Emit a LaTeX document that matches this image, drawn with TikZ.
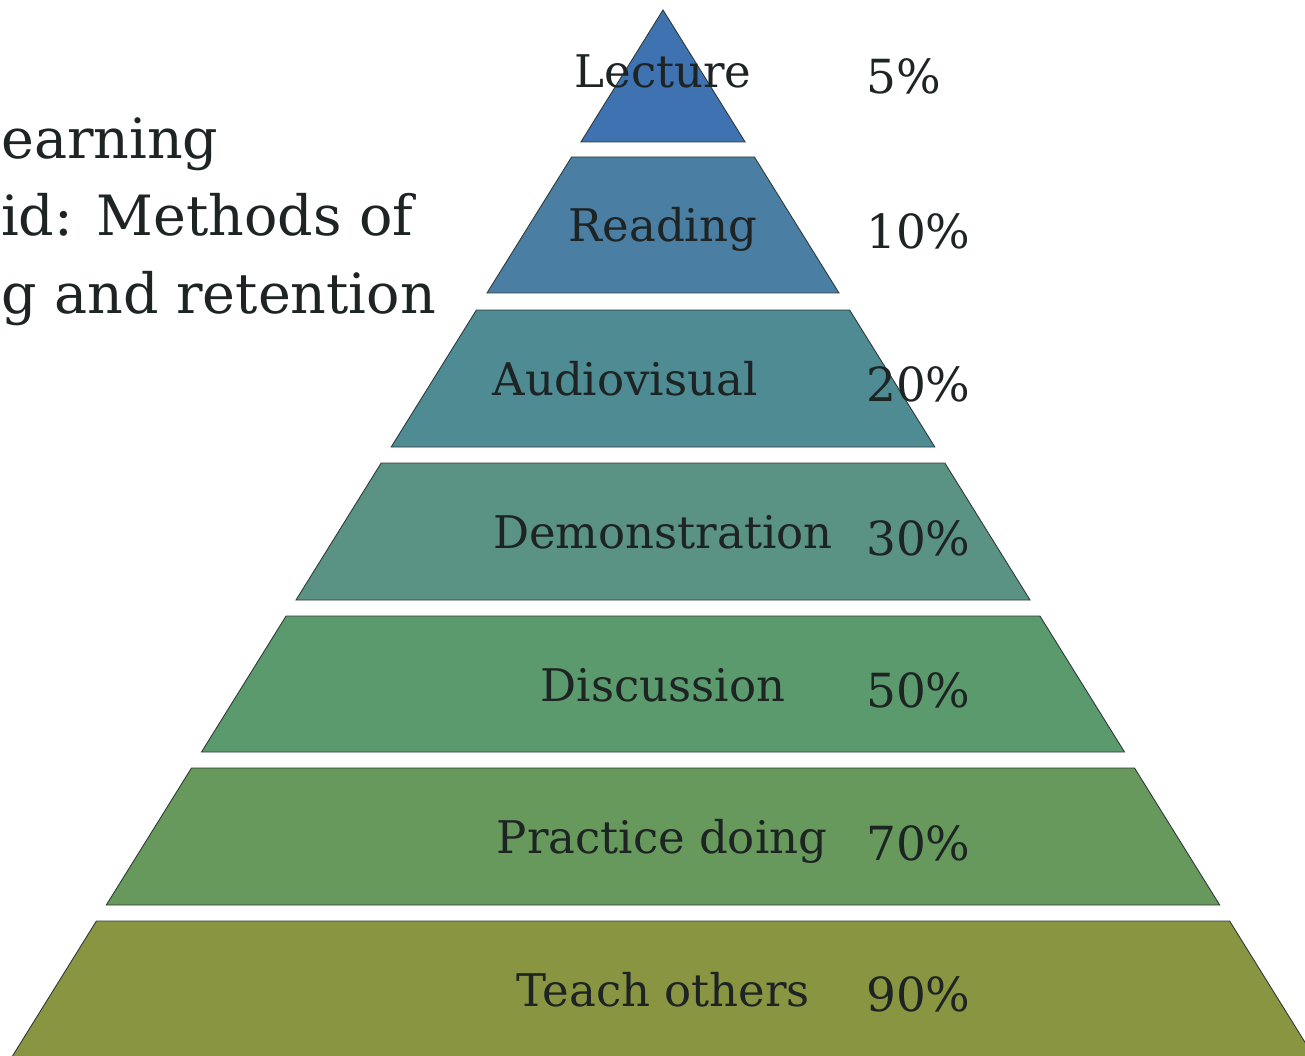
\documentclass[tikz,border=0pt]{standalone}
\usepackage{fontspec}
\setmainfont{DejaVu Serif}
\definecolor{cA}{HTML}{3F72B0}
\definecolor{cB}{HTML}{4A7FA3}
\definecolor{cC}{HTML}{4E8B93}
\definecolor{cD}{HTML}{5A9383}
\definecolor{cE}{HTML}{5B9A6C}
\definecolor{cF}{HTML}{66995B}
\definecolor{cG}{HTML}{8A9542}
\definecolor{edge}{HTML}{2E3B3A}
\definecolor{ink}{HTML}{1E2424}
\begin{document}
\begin{tikzpicture}[x=1pt,y=-1pt,
  band/.style={draw=edge,line width=0.9pt,line join=miter},
  lbl/.style={font=\fontsize{45}{50}\selectfont,text=ink,anchor=base,inner sep=0pt},
  pct/.style={font=\fontsize{47}{52}\selectfont,text=ink,anchor=base west,inner sep=0pt},
  ttl/.style={font=\fontsize{55.5}{60}\selectfont,text=ink,anchor=base west,inner sep=0pt}]
\useasboundingbox (0,0) rectangle (1305,1056);
\begin{scope}
\clip (0,0) rectangle (1305,1056);
\fill[white] (0,0) rectangle (1305,1056);
% bands
\filldraw[band,fill=cA] (663,10) -- (745.1,142) -- (580.9,142) -- cycle;
\filldraw[band,fill=cB] (571.6,157) -- (754.4,157) -- (839,293) -- (487,293) -- cycle;
\filldraw[band,fill=cC] (476.4,310) -- (849.6,310) -- (934.8,447) -- (391.2,447) -- cycle;
\filldraw[band,fill=cD] (381.2,463) -- (944.8,463) -- (1030,600) -- (296,600) -- cycle;
\filldraw[band,fill=cE] (286.1,616) -- (1039.9,616) -- (1124.5,752) -- (201.5,752) -- cycle;
\filldraw[band,fill=cF] (191.5,768) -- (1134.5,768) -- (1219.7,905) -- (106.3,905) -- cycle;
\filldraw[band,fill=cG] (96.4,921) -- (1229.6,921) -- (1316,1060) -- (10,1060) -- cycle;
\end{scope}
% labels
\node[lbl] (lecture) at (663,88) {Lecture};
\node[lbl] (reading) at (663,242) {Reading};
\node[lbl] (audio) at (625,395) {Audiovisual};
\node[lbl] (demo) at (663,548) {Demonstration};
\node[lbl] (disc) at (663,701) {Discussion};
\node[lbl] (prac) at (662,853) {Practice doing};
\node[lbl] (teach) at (663,1006) {Teach others};
\node[pct] (p5) at (866,94) {5\%};
\node[pct] (p10) at (866,249) {10\%};
\node[pct] (p20) at (866,401) {20\%};
\node[pct] (p30) at (866,555) {30\%};
\node[pct] (p50) at (866,707) {50\%};
\node[pct] (p70) at (866,860) {70\%};
\node[pct] (p90) at (866,1011) {90\%};
% title (cropped at the left edge)
\node[ttl] (t1) at (1,159) {earning};
\node[ttl] (t2) at (1,236) {id: Methods of};
\node[ttl] (t3) at (1,313) {g and retention};
\end{tikzpicture}
\end{document}
